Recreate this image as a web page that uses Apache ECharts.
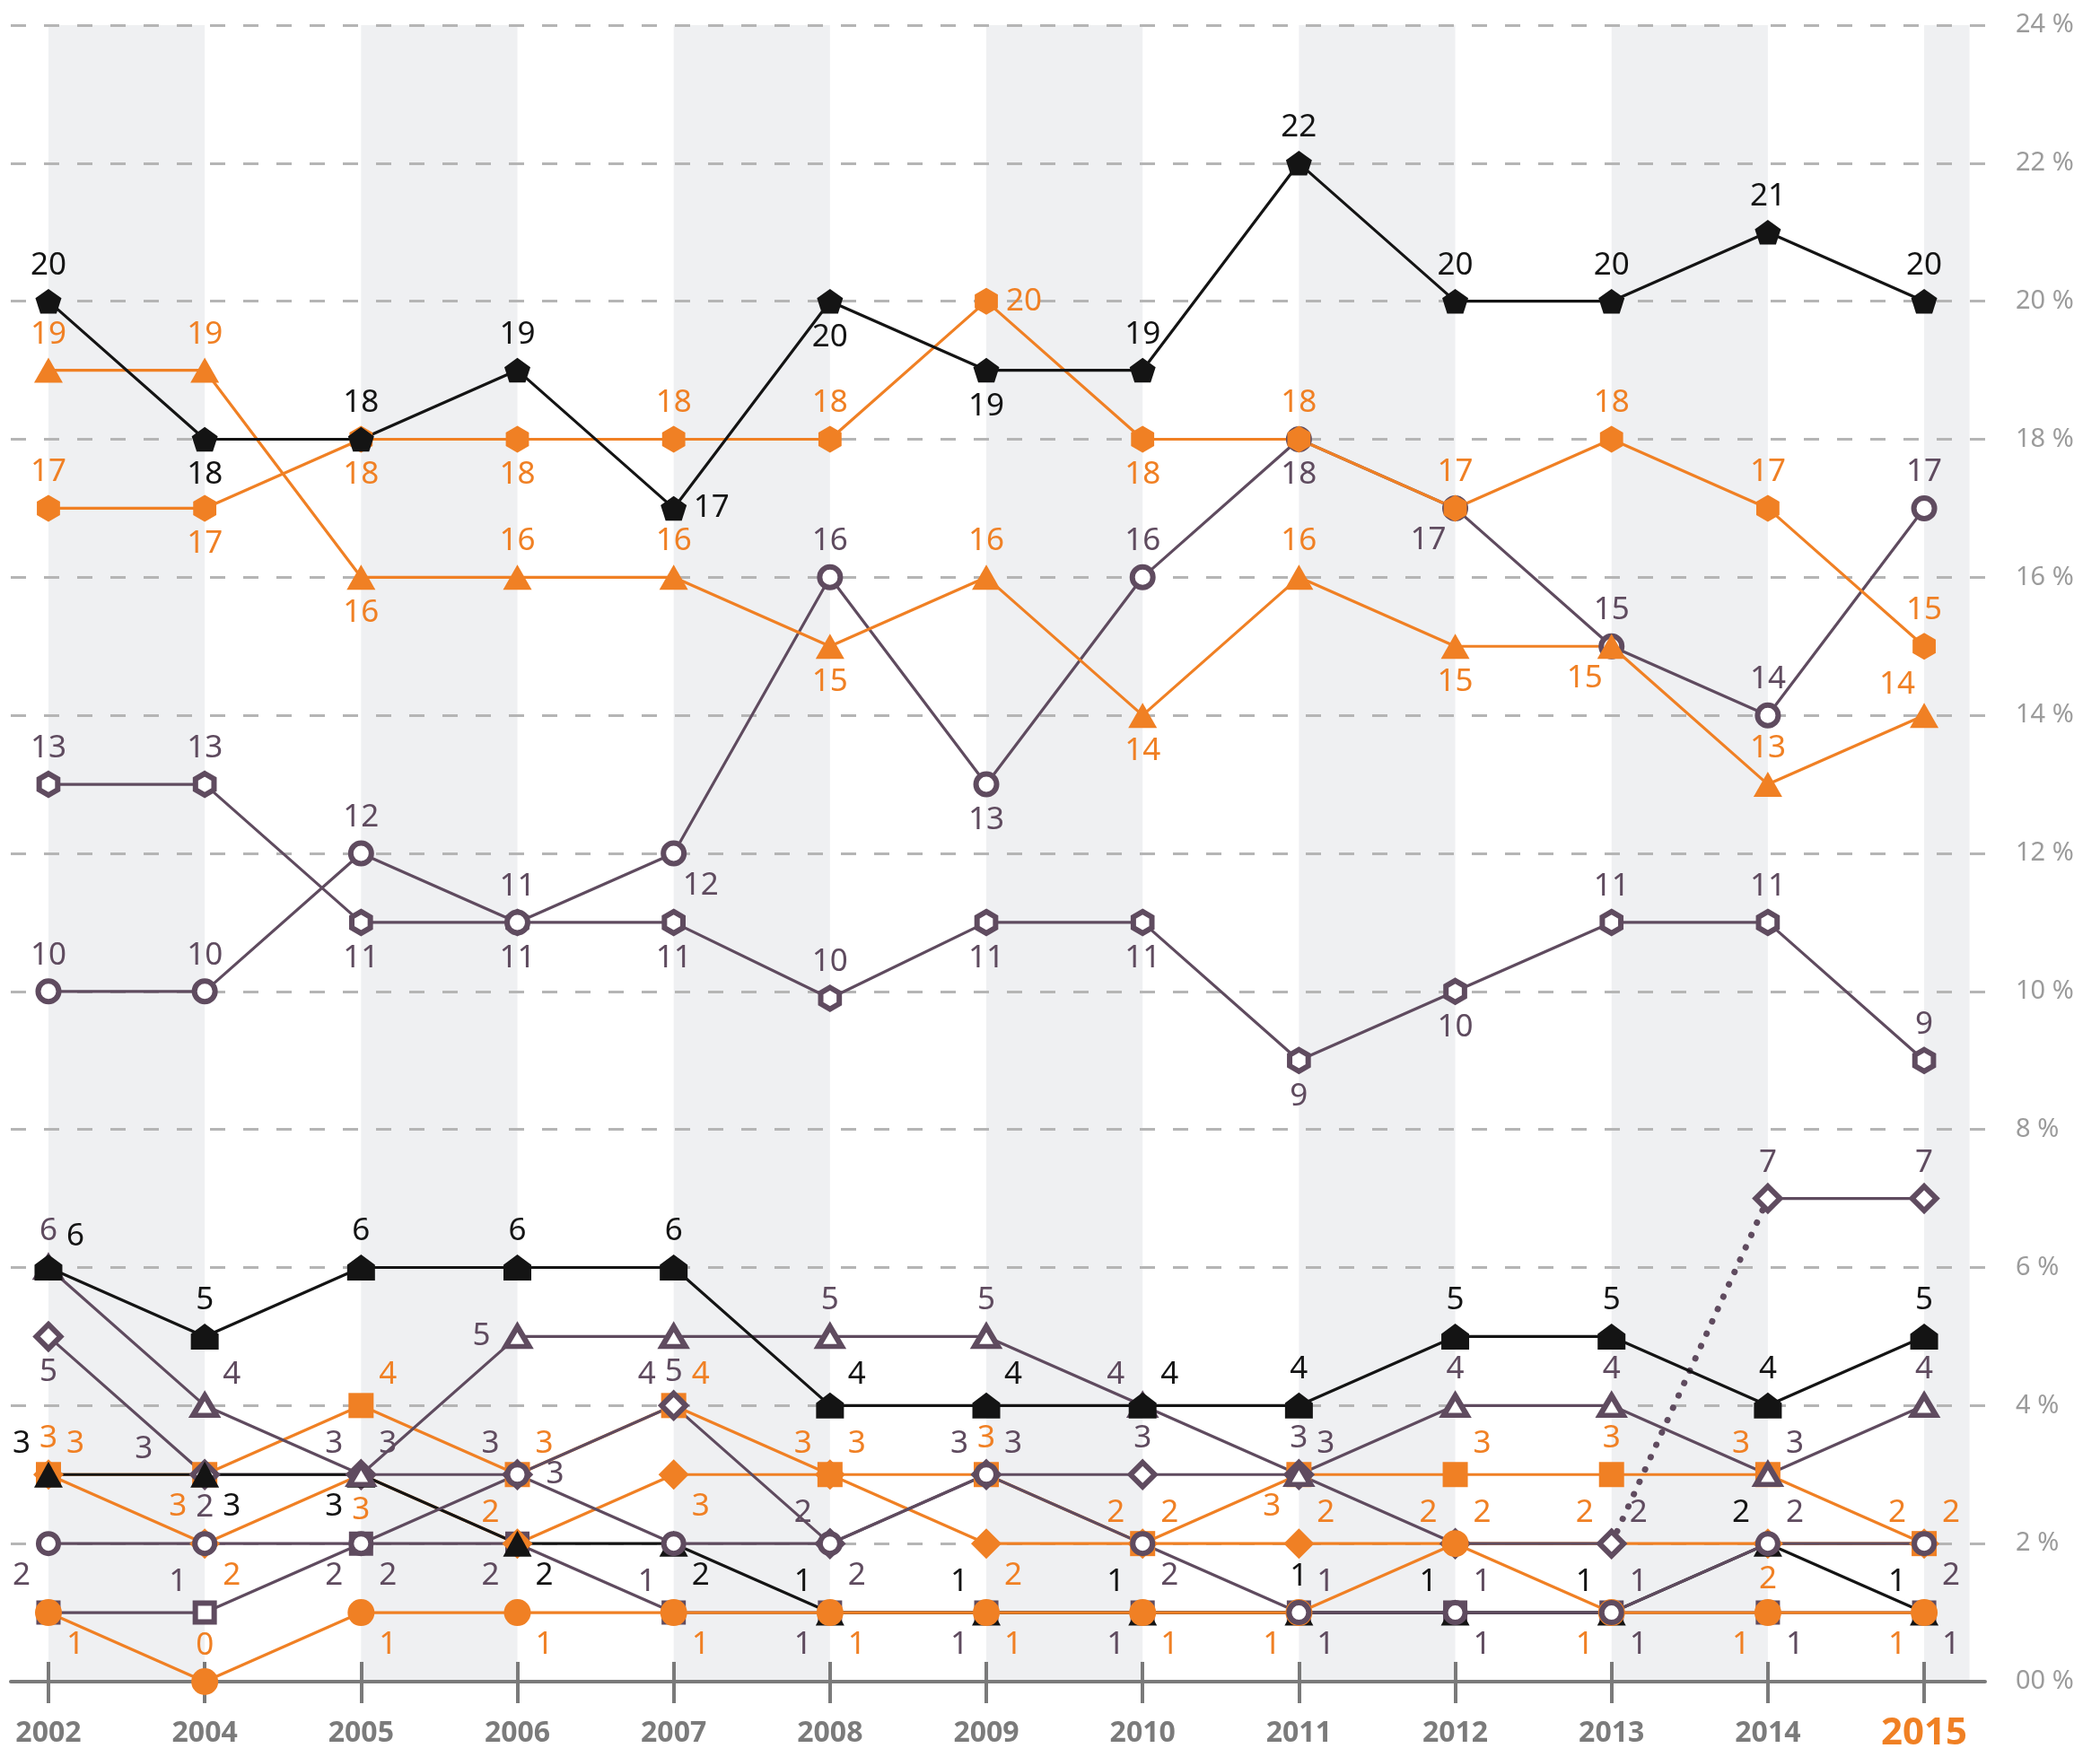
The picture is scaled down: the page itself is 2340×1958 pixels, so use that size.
<!DOCTYPE html>
<html>
<head>
<meta charset="utf-8">
<script src="https://cdn.jsdelivr.net/npm/echarts@6/dist/echarts.min.js"></script>
<style>
  html, body { margin: 0; padding: 0; background: #fff; }
  #chart { width: 2340px; height: 1958px; }
</style>
</head>
<body>
<div id="chart"></div>
<script>
// years on the x axis
var years = ['2002', '2004', '2005', '2006', '2007', '2008', '2009', '2010', '2011', '2012', '2013', '2014', '2015'];
var yTicks = [0, 2, 4, 6, 8, 10, 12, 14, 16, 18, 20, 22, 24];

// upper group
var blackPentagon  = [20, 18, 18, 19, 17, 20, 19, 19, 22, 20, 20, 21, 20];
var orangeTriangle = [19, 19, 16, 16, 16, 15, 16, 14, 16, 15, 15, 13, 14];
var orangeHexagon  = [17, 17, 18, 18, 18, 18, 20, 18, 18, 17, 18, 17, 15];
var purpleRing     = [10, 10, 12, 11, 12, 16, 13, 16, 18, 17, 15, 14, 17];
var purpleHexagon  = [13, 13, 11, 11, 11, 9.9, 11, 11, 9, 10, 11, 11, 9];

// lower group
var blackHouse     = [6, 5, 6, 6, 6, 4, 4, 4, 4, 5, 5, 4, 5];
var purpleTriangle = [6, 4, 3, 5, 5, 5, 5, 4, 3, 4, 4, 3, 4];
var purpleDiamond  = [5, 3, 3, 3, 4, 2, 3, 3, 3, 2, 2, 7, 7];
var purpleCircle   = [2, 2, 2, 3, 2, 2, 3, 2, 1, 1, 1, 2, 2];
var purpleSquare   = [1, 1, 2, 2, 1, 1, 1, 1, 1, 1, 1, 1, 1];
var blackTriangle  = [3, 3, 3, 2, 2, 1, 1, 1, 1, 1, 1, 2, 1];
var orangeSquare   = [3, 3, 4, 3, 4, 3, 3, 2, 3, 3, 3, 3, 2];
var orangeDiamond  = [3, 2, 3, 2, 3, 3, 2, 2, 2, 2, 2, 2, 2];
var orangeCircle   = [1, 0, 1, 1, 1, 1, 1, 1, 1, 2, 1, 1, 1];

// where each value label sits around its marker ('' = no label)
var labBlackPentagon  = ['t','b','t','t','r','b','b','t','t','t','t','t','t'];
var labOrangeTriangle = ['t','t','b','t','t','b','t','b','t','b','bl','t','tl'];
var labOrangeHexagon  = ['t','b','b','b','t','t','r','b','t','t','t','t','t'];
var labPurpleRing     = ['t','t','t','t','br','t','b','t','b','bl','t','t','t'];
var labPurpleHexagon  = ['t','t','b','b','b','t','b','b','b','b','t','t','t'];
var labBlackHouse     = ['tr','t','t','t','t','tr','tr','tr','t','t','t','t','t'];
var labPurpleTriangle = ['t','tr','tl','l','b','t','t','tl','t','t','t','tr','t'];
var labPurpleDiamond  = ['b','ll','tr','r','tl','tl','tr','t','tr','','tr','t','t'];
var labPurpleCircle   = ['bl','t','bl','tl','','br','tl','br','tr','tr','tr','tr','br'];
var labPurpleSquare   = ['','tl','br','bl','tl','bl','bl','bl','br','br','br','br','br'];
var labBlackTriangle  = ['tl','br','bl','br','br','tl','tl','tl','t','tl','tl','tl','tl'];
var labOrangeSquare   = ['t','bl','tr','tr','tr','tl','t','tl','bl','tr','t','tl','tl'];
var labOrangeDiamond  = ['tr','br','b','tl','br','tr','br','tr','tr','tr','tl','b','tr'];
var labOrangeCircle   = ['br','t','br','br','br','br','br','br','bl','tl','bl','bl','bl'];

var ORANGE = '#f08024';
var PURPLE = '#5f4b5f';
var BLACK = '#141414';

var OFF = {
  t: [0, -40], b: [0, 40], l: [-40, 0], r: [42, 0],
  tl: [-30, -34], tr: [30, -34], bl: [-30, 36], br: [30, 36],
  ll: [-68, -28]
};

var PENTAGON = 'path://M50,0 L100,36 L81,95 L19,95 L0,36 Z';
var HEXAGON = 'path://M50,0 L93,25 L93,75 L50,100 L7,75 L7,25 Z';
var HOUSE = 'path://M50,0 L100,40 L100,100 L0,100 L0,40 Z';

var idx = years.map(function (y, i) { return i; });
var xMin = -0.241, xMax = 12.39;

function points(values, labels) {
  return values.map(function (v, i) {
    return {
      value: [i, v],
      label: labels[i] ? { offset: OFF[labels[i]] } : { show: false }
    };
  });
}

function mask(values, from, to) {
  return values.map(function (v, i) { return [i, (i >= from && i <= to) ? v : '-']; });
}

function series(values, labels, color, symbol, size, hollow, noLine) {
  return {
    type: 'line',
    data: points(values, labels),
    symbol: symbol,
    symbolSize: size,
    symbolKeepAspect: true,
    showSymbol: true,
    lineStyle: { color: color, width: noLine ? 0 : 3.2, opacity: noLine ? 0 : 1 },
    itemStyle: hollow ? { color: '#fff', borderColor: color, borderWidth: 6 } : { color: color, borderWidth: 0 },
    label: {
      show: true, position: 'inside', color: color,
      fontSize: 35, fontFamily: 'Noto Sans',
      formatter: function (p) { return Math.round(p.value[1]); }
    },
    emphasis: { disabled: true },
    silent: true
  };
}

function plainLine(data, color, style) {
  return {
    type: 'line', data: data, showSymbol: false, symbol: 'none',
    lineStyle: Object.assign({ color: color, width: 3.2 }, style || {}),
    emphasis: { disabled: true }, silent: true
  };
}

// shaded column every other interval
var bands = [];
for (var i = 0; i < years.length; i += 2) {
  bands.push([i, Math.min(i + 1, 12.29)]);
}

var chart = echarts.init(document.getElementById('chart'));
var option = {
  animation: false,
  backgroundColor: '#fff',
  grid: { left: 12, right: 128, top: 28, bottom: 84 },
  xAxis: [{
    type: 'value', min: xMin, max: xMax,
    axisLine: { show: true, onZero: false, lineStyle: { color: '#7a7a7a', width: 4 } },
    axisTick: { show: true, length: 24, customValues: idx, lineStyle: { color: '#7a7a7a', width: 4 } },
    axisLabel: {
      show: true, customValues: idx, margin: 36,
      formatter: function (v) {
        var y = years[Math.round(v)];
        return y === '2015' ? '{hl|' + y + '}' : '{n|' + y + '}';
      },
      rich: {
        n: { fontSize: 32, fontWeight: 'bold', color: '#7b7b7b', fontFamily: 'Noto Sans', lineHeight: 44 },
        hl: { fontSize: 42, fontWeight: 'bold', color: ORANGE, fontFamily: 'Noto Sans', lineHeight: 44 }
      }
    },
    splitLine: { show: false }
  }, {
    type: 'value', min: xMin, max: xMax, position: 'bottom',
    axisLine: { show: false },
    axisTick: { show: true, inside: true, length: 22, customValues: idx, lineStyle: { color: '#7a7a7a', width: 4 } },
    axisLabel: { show: false },
    splitLine: { show: false }
  }],
  yAxis: {
    type: 'value', position: 'right', min: 0, max: 24, interval: 2,
    axisLine: { show: false }, axisTick: { show: false },
    axisLabel: {
      margin: 34, fontSize: 29, color: '#9b9b9b', fontFamily: 'Noto Sans',
      formatter: function (v) { return (v === 0 ? '00' : v) + ' %'; }
    },
    splitLine: { show: true, lineStyle: { color: '#b5b5b5', width: 3, type: [17, 20] } }
  },
  series: [
    {
      type: 'custom', z: -1, silent: true,
      data: bands,
      encode: { x: [0, 1] },
      renderItem: function (params, api) {
        var a = api.coord([api.value(0), 24]);
        var b = api.coord([api.value(1), 0]);
        return { type: 'rect', shape: { x: a[0], y: a[1], width: b[0] - a[0], height: b[1] - a[1] }, style: { fill: '#eff0f2' } };
      }
    },
    // lower group
    series(purpleSquare, labPurpleSquare, PURPLE, 'rect', 21, true),
    series(orangeSquare, labOrangeSquare, ORANGE, 'rect', 28, false),
    series(orangeDiamond, labOrangeDiamond, ORANGE, 'diamond', 34, false),
    plainLine(mask(purpleDiamond, 0, 10), PURPLE),
    plainLine(mask(purpleDiamond, 11, 12), PURPLE),
    plainLine(mask(purpleDiamond, 10, 11), PURPLE, { type: [0.1, 15], cap: 'round', width: 7 }),
    series(purpleDiamond, labPurpleDiamond, PURPLE, 'diamond', 27, true, true),
    series(blackTriangle, labBlackTriangle, BLACK, 'triangle', [32, 29], false),
    series(orangeCircle, labOrangeCircle, ORANGE, 'circle', 30, false),
    series(purpleCircle, labPurpleCircle, PURPLE, 'circle', 22, true),
    series(purpleTriangle, labPurpleTriangle, PURPLE, 'triangle', [26, 22], true),
    series(blackHouse, labBlackHouse, BLACK, HOUSE, [31, 29], false),
    // upper group
    series(purpleHexagon, labPurpleHexagon, PURPLE, HEXAGON, 24, true),
    series(purpleRing, labPurpleRing, PURPLE, 'circle', 23, true),
    series(orangeTriangle, labOrangeTriangle, ORANGE, 'triangle', [32, 28], false),
    series(orangeHexagon, labOrangeHexagon, ORANGE, HEXAGON, 30, false),
    series(blackPentagon, labBlackPentagon, BLACK, PENTAGON, 29, false)
  ]
};
chart.setOption(option);
</script>
</body>
</html>
